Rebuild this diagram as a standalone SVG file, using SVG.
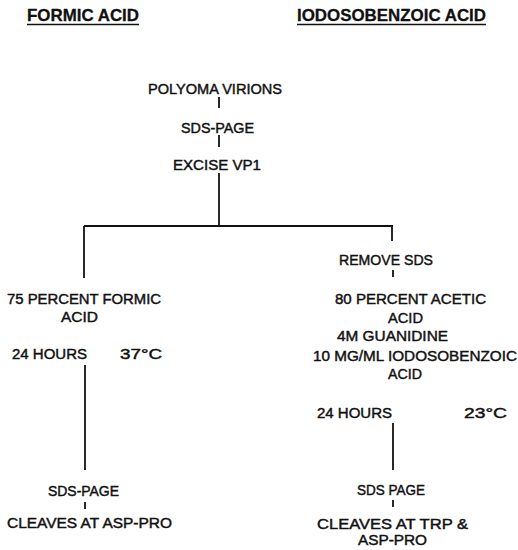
<svg xmlns="http://www.w3.org/2000/svg" width="518" height="550" viewBox="0 0 518 550">
<style>
text{font-family:"Liberation Sans",Arial,sans-serif;font-size:15px;fill:#111;stroke:#111;stroke-width:0.45;}
.h{font-size:16.5px;font-weight:bold;stroke-width:0.3;}
.c line{stroke:#111;stroke-width:1.8;fill:none;}
.u{stroke:#111;stroke-width:1.6;}
</style>
<rect width="518" height="550" fill="#fff"/>
<g id="header-formic"><text class="h" x="27" y="21" textLength="112" lengthAdjust="spacingAndGlyphs">FORMIC ACID</text><line class="u" x1="27" y1="24.5" x2="139" y2="24.5"/></g>
<g id="header-iodo"><text class="h" x="297" y="21" textLength="189" lengthAdjust="spacingAndGlyphs">IODOSOBENZOIC ACID</text><line class="u" x1="297" y1="24.5" x2="486" y2="24.5"/></g>
<g id="polyoma"><text x="148" y="94" textLength="134" lengthAdjust="spacingAndGlyphs">POLYOMA VIRIONS</text></g>
<g id="sds-page-1"><text x="181" y="133" textLength="73" lengthAdjust="spacingAndGlyphs">SDS-PAGE</text></g>
<g id="excise"><text x="173" y="170" textLength="88" lengthAdjust="spacingAndGlyphs">EXCISE VP1</text></g>
<g id="formic-cond"><text x="7" y="304" textLength="154" lengthAdjust="spacingAndGlyphs">75 PERCENT FORMIC</text><text x="61" y="322" textLength="37" lengthAdjust="spacingAndGlyphs">ACID</text><text x="12" y="359" textLength="75" lengthAdjust="spacingAndGlyphs">24 HOURS</text><text x="120" y="359" textLength="42" lengthAdjust="spacingAndGlyphs">37°C</text></g>
<g id="sds-page-left"><text x="48" y="496" textLength="71" lengthAdjust="spacingAndGlyphs">SDS-PAGE</text></g>
<g id="cleave-left"><text x="7" y="528" textLength="165" lengthAdjust="spacingAndGlyphs">CLEAVES AT ASP-PRO</text></g>
<g id="remove-sds"><text x="339" y="265" textLength="94" lengthAdjust="spacingAndGlyphs">REMOVE SDS</text></g>
<g id="iodo-cond"><text x="335" y="304" textLength="151" lengthAdjust="spacingAndGlyphs">80 PERCENT ACETIC</text><text x="388" y="323" textLength="35" lengthAdjust="spacingAndGlyphs">ACID</text><text x="337" y="341" textLength="111" lengthAdjust="spacingAndGlyphs">4M GUANIDINE</text><text x="313" y="361" textLength="204" lengthAdjust="spacingAndGlyphs">10 MG/ML IODOSOBENZOIC</text><text x="388" y="379" textLength="34" lengthAdjust="spacingAndGlyphs">ACID</text><text x="317" y="418" textLength="75" lengthAdjust="spacingAndGlyphs">24 HOURS</text><text x="464" y="418" textLength="43" lengthAdjust="spacingAndGlyphs">23°C</text></g>
<g id="sds-page-right"><text x="357" y="495" textLength="68" lengthAdjust="spacingAndGlyphs">SDS PAGE</text></g>
<g id="cleave-right"><text x="317" y="528.5" font-size="14" textLength="151" lengthAdjust="spacingAndGlyphs">CLEAVES AT TRP &amp;</text><text x="358" y="545" font-size="13" textLength="69" lengthAdjust="spacingAndGlyphs">ASP-PRO</text></g>
<g id="connectors" class="c">
<line x1="219" y1="97" x2="219" y2="108"/>
<line x1="219" y1="135" x2="219" y2="147"/>
<line x1="219" y1="173" x2="219" y2="226"/>
<line x1="84" y1="226" x2="393" y2="226"/>
<line x1="84" y1="226" x2="84" y2="278"/>
<line x1="392" y1="226" x2="392" y2="241"/>
<line x1="393" y1="270" x2="393" y2="277"/>
<line x1="85" y1="365" x2="85" y2="470"/>
<line x1="393" y1="423" x2="393" y2="470"/>
<line x1="85" y1="502" x2="85" y2="509"/>
<line x1="393" y1="500" x2="393" y2="507"/>
</g>
</svg>
